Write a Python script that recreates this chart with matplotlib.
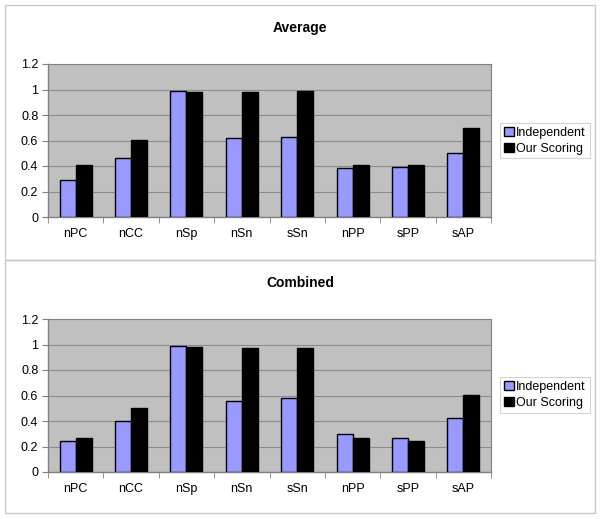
import matplotlib.pyplot as plt
import numpy as np
from matplotlib.patches import Rectangle

categories = ["nPC", "nCC", "nSp", "nSn", "sSn", "nPP", "sPP", "sAP"]
avg_independent = [0.29, 0.46, 0.99, 0.62, 0.625, 0.385, 0.39, 0.505]
avg_scoring = [0.405, 0.605, 0.98, 0.98, 0.985, 0.41, 0.41, 0.695]
comb_independent = [0.24, 0.40, 0.99, 0.555, 0.58, 0.295, 0.265, 0.42]
comb_scoring = [0.27, 0.505, 0.98, 0.97, 0.972, 0.27, 0.24, 0.605]
yticks = [0, 0.2, 0.4, 0.6, 0.8, 1, 1.2]
ytick_labels = ["0", "0.2", "0.4", "0.6", "0.8", "1", "1.2"]

plt.rcParams['font.family'] = ['Liberation Sans', 'DejaVu Sans']

W, H = 600, 519
fig = plt.figure(figsize=(6, 5.19), dpi=100)
fig.patch.set_facecolor("white")

# outer panel frames
for y0, y1 in [(5, 260), (260, 513)]:
    fig.add_artist(Rectangle((5 / W, 1 - y1 / H), 590 / W, (y1 - y0) / H,
                             transform=fig.transFigure, fill=False,
                             edgecolor="#c8c8c8", linewidth=1))

panels = [
    ("Average", avg_independent, avg_scoring, 64, 217, 28, 123),
    ("Combined", comb_independent, comb_scoring, 319, 472, 283, 377),
]

x = np.arange(len(categories))
bw = 0.29
for title, ind, sco, ytop, ybot, ytitle, yleg in panels:
    ax = fig.add_axes([48 / W, 1 - ybot / H, (491 - 48) / W, (ybot - ytop) / H])
    ax.set_facecolor("#c0c0c0")
    ax.bar(x - bw / 2, ind, bw, color="#9999ff", edgecolor="black", linewidth=1,
           label="Independent", zorder=3)
    ax.bar(x + bw / 2, sco, bw, color="black", edgecolor="black", linewidth=1,
           label="Our Scoring", zorder=3)
    ax.set_xlim(-0.5, len(categories) - 0.5)
    ax.set_ylim(0, 1.2)
    ax.set_yticks(yticks)
    ax.set_yticklabels(ytick_labels, fontsize=9)
    ax.yaxis.grid(True, color="#8c8c8c", linewidth=0.8, zorder=0)
    ax.set_axisbelow(True)
    ax.set_xticks(x)
    ax.set_xticklabels(categories, fontsize=9)
    ax.set_xticks(np.arange(len(categories) + 1) - 0.5, minor=True)
    ax.tick_params(axis="x", which="major", length=0, pad=8)
    ax.tick_params(axis="x", which="minor", length=4, color="#808080")
    ax.tick_params(axis="y", length=4, color="#808080", pad=3)
    for s in ["top", "right"]:
        ax.spines[s].set_color("#808080")
        ax.spines[s].set_linewidth(0.8)
    for s in ["left", "bottom"]:
        ax.spines[s].set_color("#808080")
        ax.spines[s].set_linewidth(1)
    fig.text(0.5, 1 - ytitle / H, title, ha="center", va="center",
             fontsize=10, fontweight="bold")
    leg = ax.legend(loc="upper left", bbox_to_anchor=(500 / W, 1 - yleg / H),
                    bbox_transform=fig.transFigure, fontsize=9, frameon=True,
                    fancybox=False, edgecolor="#c8c8c8", borderpad=0.3,
                    handlelength=0.8, handleheight=0.8, handletextpad=0.2,
                    labelspacing=0.3, borderaxespad=0)
    leg.get_frame().set_linewidth(0.8)

fig.savefig("out.png", dpi=100)
